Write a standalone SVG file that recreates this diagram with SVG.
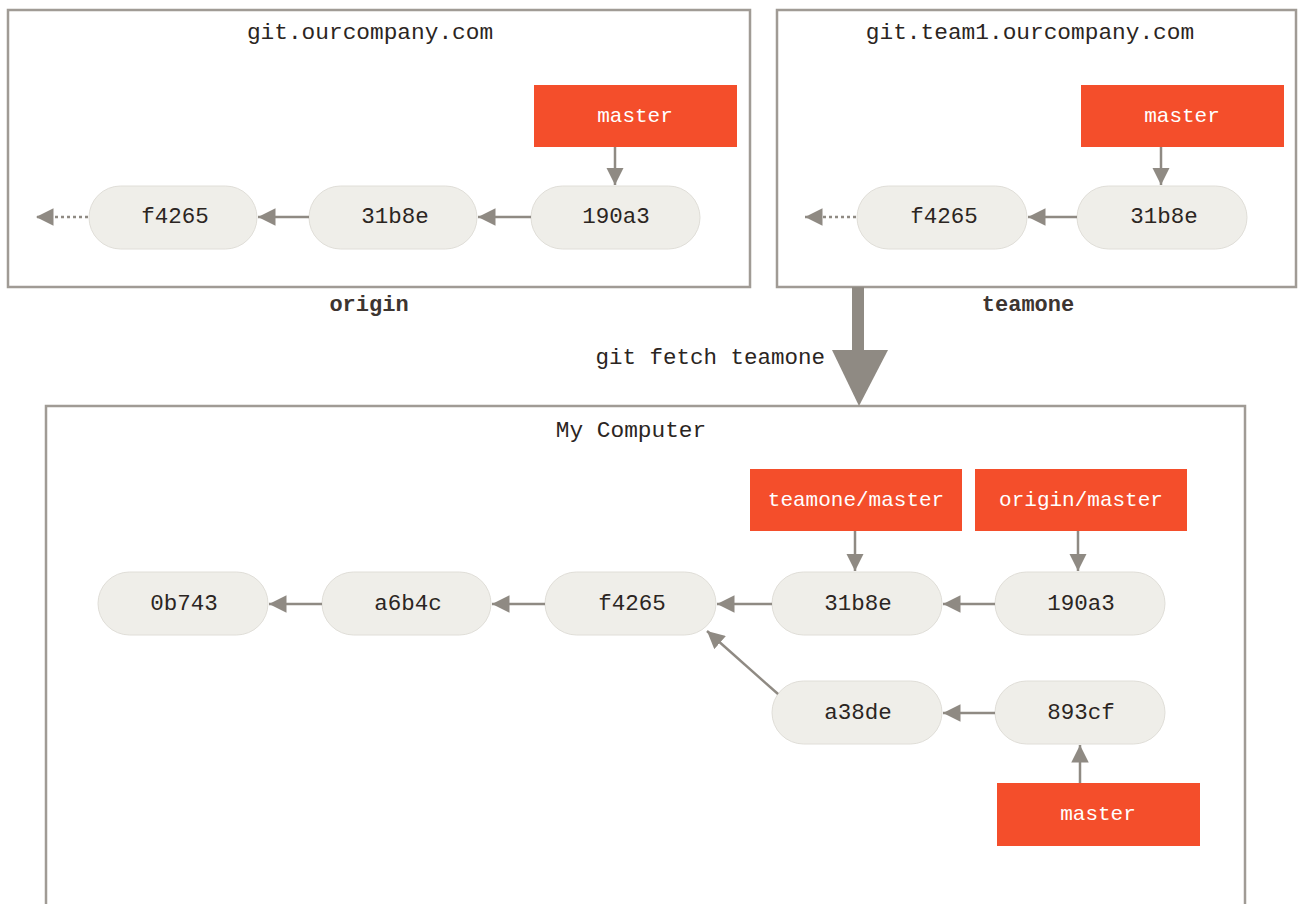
<svg xmlns="http://www.w3.org/2000/svg" width="1298" height="904" viewBox="0 0 1298 904">
<defs>
<style>
.frame{fill:#fff;stroke:#a09b95;stroke-width:2.5}
.commit{fill:#efeee9;stroke:#e0ded8;stroke-width:1}
.branch{fill:#f44e2b}
.ct{font-family:"Liberation Mono","DejaVu Sans Mono",monospace;font-size:22.5px;fill:#2b2522;text-anchor:middle;dominant-baseline:central}
.bt{font-family:"Liberation Mono","DejaVu Sans Mono",monospace;font-size:21px;fill:#fff;text-anchor:middle;dominant-baseline:central}
.title{font-family:"Liberation Mono","DejaVu Sans Mono",monospace;font-size:22.8px;fill:#2b2522;text-anchor:middle;dominant-baseline:central}
.lbl{font-family:"Liberation Mono","DejaVu Sans Mono",monospace;font-size:22px;font-weight:bold;fill:#3d3531;text-anchor:middle;dominant-baseline:central}
.edge{stroke:#8f8a83;stroke-width:2.5;fill:none;marker-end:url(#ah)}
.dot{stroke:#8f8a83;stroke-width:2.5;fill:none;stroke-dasharray:3 3;marker-end:url(#ah)}
</style>
<marker id="ah" viewBox="0 0 10 10" refX="10" refY="5" markerWidth="7" markerHeight="7" orient="auto" markerUnits="strokeWidth">
<path d="M0,0 L10,5 L0,10 z" fill="#8f8a83"/>
</marker>
</defs>

<g id="origin-server">
<rect class="frame" x="8" y="10" width="742" height="277"/>
<text class="title" x="370" y="33">git.ourcompany.com</text>
<text class="lbl" x="369" y="305">origin</text>
</g>
<g id="teamone-server">
<rect class="frame" x="777" y="10" width="519" height="277"/>
<text class="title" x="1030" y="33">git.team1.ourcompany.com</text>
<text class="lbl" x="1028" y="305">teamone</text>
</g>
<g id="my-computer">
<rect class="frame" x="46" y="406" width="1199" height="510"/>
<text class="title" x="631" y="431">My Computer</text>
</g>

<g id="o-f4265"><rect class="commit" x="89" y="186" width="168" height="63" rx="31.5"/><text class="ct" x="175" y="217">f4265</text></g>
<g id="o-31b8e"><rect class="commit" x="309" y="186" width="168" height="63" rx="31.5"/><text class="ct" x="395" y="217">31b8e</text></g>
<g id="o-190a3"><rect class="commit" x="531" y="186" width="169" height="63" rx="31.5"/><text class="ct" x="616" y="217">190a3</text></g>
<g id="o-master"><rect class="branch" x="534" y="85" width="203" height="62"/><text class="bt" x="635" y="116">master</text></g>

<g id="t-f4265"><rect class="commit" x="857" y="186" width="170" height="63" rx="31.5"/><text class="ct" x="944" y="217">f4265</text></g>
<g id="t-31b8e"><rect class="commit" x="1077" y="186" width="170" height="63" rx="31.5"/><text class="ct" x="1164" y="217">31b8e</text></g>
<g id="t-master"><rect class="branch" x="1081" y="85" width="203" height="62"/><text class="bt" x="1182" y="116">master</text></g>

<g id="m-0b743"><rect class="commit" x="98" y="572" width="170" height="63" rx="31.5"/><text class="ct" x="184" y="604">0b743</text></g>
<g id="m-a6b4c"><rect class="commit" x="322" y="572" width="169" height="63" rx="31.5"/><text class="ct" x="408" y="604">a6b4c</text></g>
<g id="m-f4265"><rect class="commit" x="545" y="572" width="171" height="63" rx="31.5"/><text class="ct" x="632" y="604">f4265</text></g>
<g id="m-31b8e"><rect class="commit" x="772" y="572" width="170" height="63" rx="31.5"/><text class="ct" x="858" y="604">31b8e</text></g>
<g id="m-190a3"><rect class="commit" x="995" y="572" width="170" height="63" rx="31.5"/><text class="ct" x="1081" y="604">190a3</text></g>
<g id="m-a38de"><rect class="commit" x="772" y="681" width="170" height="63" rx="31.5"/><text class="ct" x="858" y="713">a38de</text></g>
<g id="m-893cf"><rect class="commit" x="995" y="681" width="170" height="63" rx="31.5"/><text class="ct" x="1081" y="713">893cf</text></g>
<g id="m-teamone-master"><rect class="branch" x="750" y="469" width="212" height="62"/><text class="bt" x="856" y="500">teamone/master</text></g>
<g id="m-origin-master"><rect class="branch" x="975" y="469" width="212" height="62"/><text class="bt" x="1081" y="500">origin/master</text></g>
<g id="m-master"><rect class="branch" x="997" y="783" width="203" height="63"/><text class="bt" x="1098" y="814">master</text></g>

<g id="connectors">
<line class="dot" x1="88" y1="217" x2="36" y2="217"/>
<line class="edge" x1="309" y1="217" x2="258" y2="217"/>
<line class="edge" x1="531" y1="217" x2="478" y2="217"/>
<line class="edge" x1="615" y1="147" x2="615" y2="185"/>
<line class="dot" x1="856" y1="217" x2="805" y2="217"/>
<line class="edge" x1="1077" y1="217" x2="1028" y2="217"/>
<line class="edge" x1="1161" y1="147" x2="1161" y2="185"/>
<line class="edge" x1="322" y1="604" x2="269" y2="604"/>
<line class="edge" x1="545" y1="604" x2="492" y2="604"/>
<line class="edge" x1="772" y1="604" x2="717" y2="604"/>
<line class="edge" x1="995" y1="604" x2="943" y2="604"/>
<line class="edge" x1="995" y1="713" x2="943" y2="713"/>
<line class="edge" x1="778" y1="694" x2="707" y2="631"/>
<line class="edge" x1="855" y1="531" x2="855" y2="571"/>
<line class="edge" x1="1078" y1="531" x2="1078" y2="571"/>
<line class="edge" x1="1080" y1="783" x2="1080" y2="745"/>
<g id="fetch-arrow">
<rect x="852" y="287" width="12" height="64" fill="#8f8a83"/>
<path d="M832,350 L888,350 L859,406 z" fill="#8f8a83"/>
<text x="825" y="358" style="font-family:'Liberation Mono','DejaVu Sans Mono',monospace;font-size:22.5px;fill:#2b2522;text-anchor:end;dominant-baseline:central">git fetch teamone</text>
</g>
</g>
</svg>
